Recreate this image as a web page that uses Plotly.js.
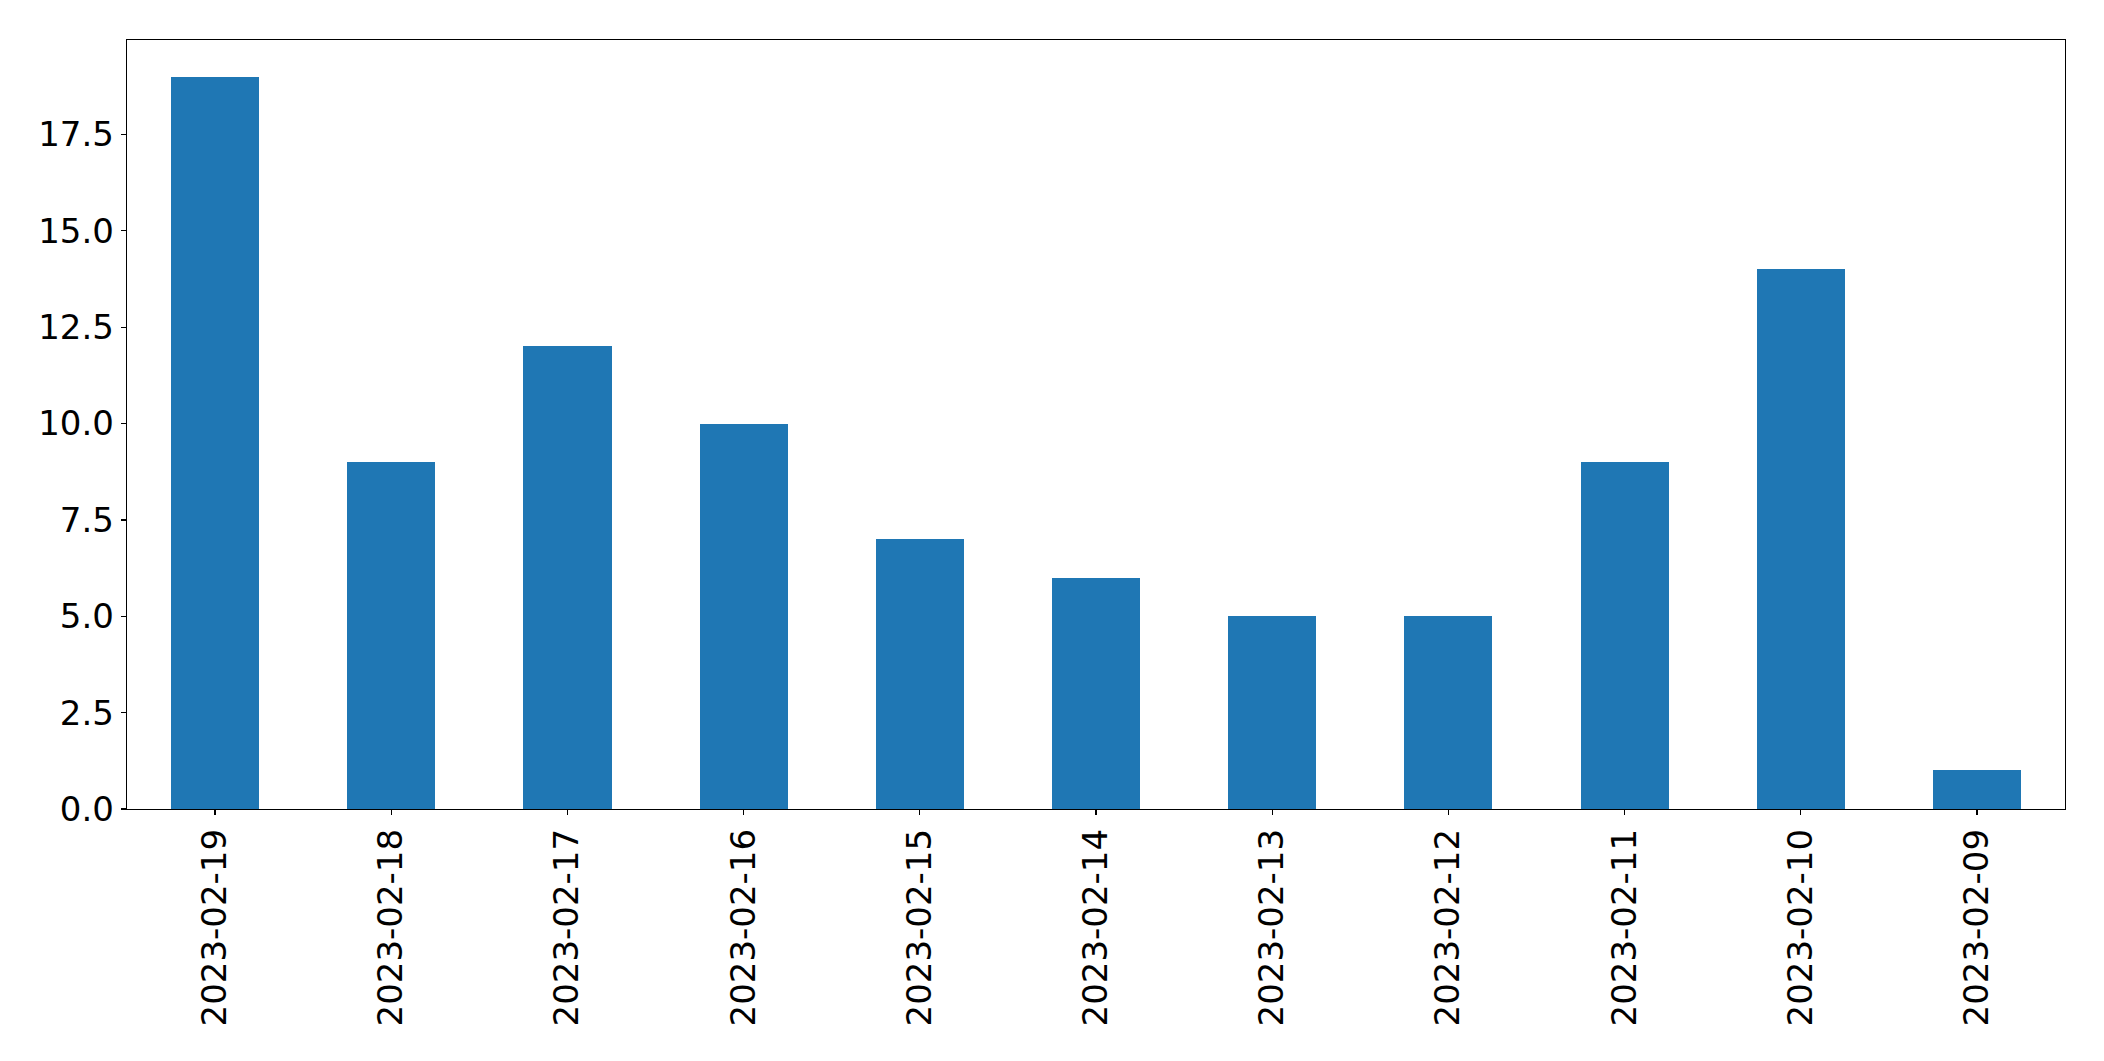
<!DOCTYPE html>
<html>
<head>
<meta charset="utf-8">
<script src="https://cdn.plot.ly/plotly-3.0.1.min.js"></script>
<style>html,body{margin:0;padding:0;background:#fff;}#chart{width:2104px;height:1061px;}</style>
</head>
<body>
<div id="chart"></div>
<script>
const dates = ["2023-02-19","2023-02-18","2023-02-17","2023-02-16","2023-02-15","2023-02-14","2023-02-13","2023-02-12","2023-02-11","2023-02-10","2023-02-09"];
const counts = [19, 9, 12, 10, 7, 6, 5, 5, 9, 14, 1];
const yTicks = [0, 2.5, 5, 7.5, 10, 12.5, 15, 17.5];

const trace = {
  type: 'bar',
  x: dates,
  y: counts,
  width: 0.5,
  marker: {color: '#1f77b4', line: {width: 0}},
  hoverinfo: 'x+y'
};

const fontSpec = {family: 'DejaVu Sans', size: 34, color: '#000'};

const layout = {
  width: 2104,
  height: 1061,
  margin: {l: 127, r: 39, t: 39.5, b: 252, pad: 0},
  paper_bgcolor: '#fff',
  plot_bgcolor: '#fff',
  showlegend: false,
  bargap: 0,
  xaxis: {
    type: 'category',
    range: [-0.5, 10.5],
    tickangle: -90,
    ticks: 'outside',
    ticklen: 5,
    tickwidth: 1.3,
    tickcolor: '#000',
    showline: true,
    mirror: true,
    linecolor: '#000',
    linewidth: 1.3,
    showgrid: false,
    zeroline: false,
    tickfont: fontSpec,
    automargin: false
  },
  yaxis: {
    range: [0, 19.95],
    tickvals: yTicks,
    tickformat: '.1f',
    ticks: 'outside',
    ticklen: 5,
    tickwidth: 1.3,
    tickcolor: '#000',
    showline: true,
    mirror: true,
    linecolor: '#000',
    linewidth: 1.3,
    showgrid: false,
    zeroline: false,
    tickfont: fontSpec,
    automargin: false
  }
};

Plotly.newPlot('chart', [trace], layout, {displayModeBar: false, staticPlot: true});
</script>
</body>
</html>
